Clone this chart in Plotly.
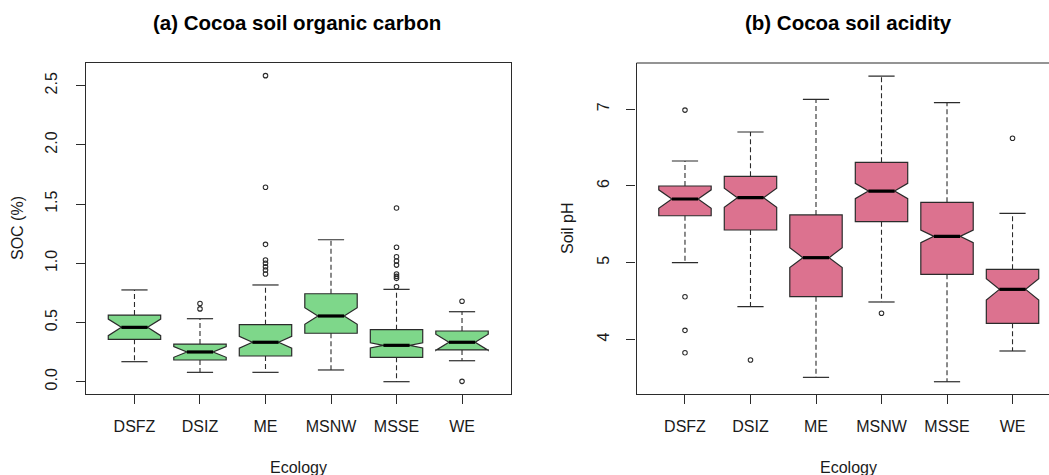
import plotly.graph_objects as go

# Ecological zones (same order in both panels)
ecologies = ["DSFZ", "DSIZ", "ME", "MSNW", "MSSE", "WE"]

# (a) Soil organic carbon, %
soc_lower_whisker = [0.169, 0.079, 0.079, 0.099, 0.000, 0.177]
soc_q1 = [0.358, 0.183, 0.217, 0.409, 0.206, 0.268]
soc_median = [0.459, 0.251, 0.333, 0.555, 0.307, 0.333]
soc_q3 = [0.563, 0.318, 0.482, 0.743, 0.439, 0.428]
soc_upper_whisker = [0.775, 0.532, 0.817, 1.199, 0.780, 0.591]
soc_notch = [0.070, 0.045, 0.050, 0.070, 0.022, 0.068]
soc_outliers = [
    [],
    [0.615, 0.660],
    [2.585, 1.642, 1.160, 1.028, 1.000, 0.971, 0.943, 0.910],
    [],
    [1.467, 1.135, 1.056, 1.019, 0.985, 0.910, 0.890, 0.873, 0.802],
    [0.679, 0.003],
]

# (b) Soil pH
ph_lower_whisker = [5.000, 4.426, 3.504, 4.487, 3.447, 3.848]
ph_q1 = [5.612, 5.426, 4.556, 5.534, 4.848, 4.209]
ph_median = [5.830, 5.847, 5.065, 5.934, 5.343, 4.652]
ph_q3 = [6.000, 6.126, 5.622, 6.309, 5.787, 4.913]
ph_upper_whisker = [6.326, 6.704, 7.130, 7.434, 7.086, 5.644]
ph_notch = [0.120, 0.125, 0.130, 0.100, 0.083, 0.140]
ph_outliers = [
    [6.990, 4.556, 4.117, 3.825],
    [3.730],
    [],
    [4.340],
    [],
    [6.622],
]

W, H = 1049, 475
INK = "#2b2b2b"
FONT = "Liberation Sans, Arial, sans-serif"
BOX_W = 0.8          # box width in category units
STAPLE = 0.2         # half width of whisker caps
MED = 0.2            # half width of the median bar

positions = list(range(1, len(ecologies) + 1))


def px_x(p):
    return p / W


def px_y(p):
    return (H - p) / H


fig = go.Figure()


def add_panel(xa, ya, lw, q1, med, q3, uw, notch, outl, fill):
    xs, ys = [], []
    for i, p in enumerate(positions):
        xs += [p, p, None, p, p, None]
        ys += [q3[i], uw[i], None, q1[i], lw[i], None]
    fig.add_trace(go.Scatter(x=xs, y=ys, mode="lines", xaxis=xa, yaxis=ya,
                             line=dict(color=INK, width=1.1, dash="5px,3px"),
                             hoverinfo="skip", showlegend=False))
    sx, sy = [], []
    for i, p in enumerate(positions):
        sx += [p - STAPLE, p + STAPLE, None, p - STAPLE, p + STAPLE, None]
        sy += [uw[i], uw[i], None, lw[i], lw[i], None]
    fig.add_trace(go.Scatter(x=sx, y=sy, mode="lines", xaxis=xa, yaxis=ya,
                             line=dict(color=INK, width=1.2),
                             hoverinfo="skip", showlegend=False))
    fig.add_trace(go.Box(x=positions, q1=q1, median=med, q3=q3,
                         lowerfence=q1, upperfence=q3,
                         notched=True, notchspan=notch, notchwidth=0.25,
                         width=BOX_W, fillcolor=fill,
                         line=dict(color=INK, width=1.2),
                         xaxis=xa, yaxis=ya, showlegend=False))
    mx, my = [], []
    for i, p in enumerate(positions):
        mx += [p - MED, p + MED, None]
        my += [med[i], med[i], None]
    fig.add_trace(go.Scatter(x=mx, y=my, mode="lines", xaxis=xa, yaxis=ya,
                             line=dict(color="#000000", width=3.2),
                             hoverinfo="skip", showlegend=False))
    ox, oy = [], []
    for i, p in enumerate(positions):
        for v in outl[i]:
            ox.append(p)
            oy.append(v)
    fig.add_trace(go.Scatter(x=ox, y=oy, mode="markers", xaxis=xa, yaxis=ya,
                             marker=dict(symbol="circle-open", size=4.5,
                                         color=INK, line=dict(width=1.1)),
                             hoverinfo="skip", showlegend=False))


add_panel("x", "y", soc_lower_whisker, soc_q1, soc_median, soc_q3,
          soc_upper_whisker, soc_notch, soc_outliers, "#7ED78A")
add_panel("x2", "y2", ph_lower_whisker, ph_q1, ph_median, ph_q3,
          ph_upper_whisker, ph_notch, ph_outliers, "#DC728F")

plot_top, plot_bottom = 63, 394
ydom = [px_y(plot_bottom), px_y(plot_top)]

axis_common = dict(showgrid=False, zeroline=False, ticks="outside", ticklen=9,
                   tickwidth=1.1, tickcolor=INK, linecolor=INK, linewidth=1.2,
                   tickfont=dict(family=FONT, size=16, color="#1a1a1a"))

# Unit width of the pH panel in pixels, so its frame runs past the page edge
unit_px = (510.5 - 86) / 6.48
right_span = (W - 636.5) / unit_px

fig.update_layout(
    width=W, height=H, margin=dict(l=0, r=0, t=0, b=0),
    paper_bgcolor="white", plot_bgcolor="white",
    xaxis=dict(domain=[px_x(86), px_x(510.5)], range=[0.26, 6.74],
               tickvals=positions, ticktext=ecologies, anchor="y",
               showline=True, mirror=True, ticklabelstandoff=9, **axis_common),
    yaxis=dict(domain=ydom, range=[-0.104, 2.692],
               tickvals=[0, 0.5, 1.0, 1.5, 2.0, 2.5],
               ticktext=["0.0", "0.5", "1.0", "1.5", "2.0", "2.5"],
               tickangle=-90, anchor="x", showline=True, mirror=True,
               ticklabelstandoff=13, **axis_common),
    xaxis2=dict(domain=[px_x(636.5), 1.0], range=[0.26, 0.26 + right_span],
                tickvals=positions, ticktext=ecologies, anchor="y2",
                showline=True, mirror=False, ticklabelstandoff=9, **axis_common),
    yaxis2=dict(domain=ydom, range=[3.287, 7.604], tickvals=[4, 5, 6, 7],
                tickangle=-90, anchor="x2", showline=True, mirror=False,
                ticklabelstandoff=11, **axis_common),
    shapes=[dict(type="line", xref="paper", yref="paper",
                 x0=px_x(636.5), x1=1.0, y0=ydom[1], y1=ydom[1],
                 line=dict(color=INK, width=1.2))],
)

title_font = dict(family=FONT, size=20.5, color="#000000", weight="bold")
label_font = dict(family=FONT, size=16, color="#1a1a1a")
fig.add_annotation(text="(a) Cocoa soil organic carbon", x=px_x(297), y=px_y(23),
                   xref="paper", yref="paper", showarrow=False, font=title_font,
                   xanchor="center", yanchor="middle")
fig.add_annotation(text="(b) Cocoa soil acidity", x=px_x(848), y=px_y(23),
                   xref="paper", yref="paper", showarrow=False, font=title_font,
                   xanchor="center", yanchor="middle")
fig.add_annotation(text="Ecology", x=px_x(298), y=px_y(467), xref="paper",
                   yref="paper", showarrow=False, font=label_font,
                   xanchor="center", yanchor="middle")
fig.add_annotation(text="Ecology", x=px_x(848.5), y=px_y(467), xref="paper",
                   yref="paper", showarrow=False, font=label_font,
                   xanchor="center", yanchor="middle")
fig.add_annotation(text="SOC (%)", x=px_x(17.5), y=px_y(228.5), xref="paper",
                   yref="paper", showarrow=False, font=label_font, textangle=-90,
                   xanchor="center", yanchor="middle")
fig.add_annotation(text="Soil pH", x=px_x(567.5), y=px_y(228.5), xref="paper",
                   yref="paper", showarrow=False, font=label_font, textangle=-90,
                   xanchor="center", yanchor="middle")

fig.write_html("out.html")
